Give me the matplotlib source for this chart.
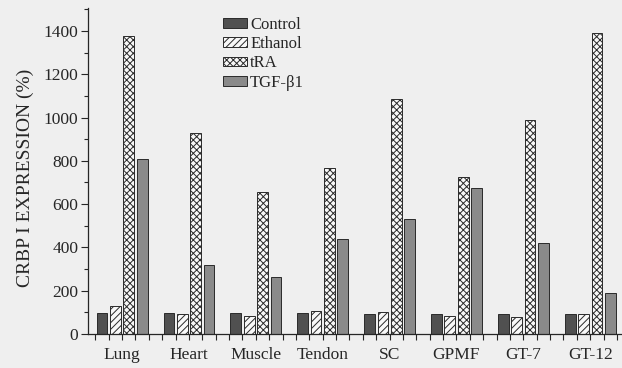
import numpy as np
from matplotlib import pyplot as plt

# tissues along the x axis
tissues = ["Lung", "Heart", "Muscle", "Tendon", "SC", "GPMF", "GT-7", "GT-12"]
seriesNames = ["Control", "Ethanol", "tRA", "TGF-\u03b21"]
# values (%)
control = [98, 98, 96, 96, 94, 94, 92, 92]
ethanol = [129, 91, 83, 108, 102, 83, 80, 92]
tra = [1377, 927, 656, 766, 1084, 724, 989, 1389]
tgf = [807, 319, 262, 437, 533, 676, 422, 189]

plt.rcParams["font.family"] = ["Liberation Serif", "DejaVu Serif"]
plt.rcParams["hatch.linewidth"] = 0.7

fig = plt.figure(figsize=(6.22, 3.68), dpi=100)
fig.patch.set_facecolor("#efefef")
ax = fig.add_axes([88/622, 1-334/368, (621-88)/622, (334-8)/368])
ax.set_facecolor("#efefef")

x = np.arange(len(tissues))
barWidth = 0.16
styles = [
    dict(color="#505050", hatch=None),
    dict(color="#f8f8f8", hatch="/////"),
    dict(color="#f8f8f8", hatch="xxxxx"),
    dict(color="#8a8a8a", hatch=None),
]
for j, (vals, name, st) in enumerate(zip([control, ethanol, tra, tgf], seriesNames, styles)):
    ax.bar(x + (j - 1.5)*0.2, vals, barWidth, color=st["color"], hatch=st["hatch"],
           edgecolor="#2a2a2a", linewidth=0.7, label=name)

txtColor = "#262626"
ax.set_xlim(-0.51, 7.46)
ax.set_ylim(0, 1506)
ax.set_yticks(np.arange(0, 1401, 200))
ax.set_yticks(np.arange(100, 1501, 200), minor=True)
ax.set_xticks(np.arange(-0.4, 7.45, 0.2))
ax.set_xticklabels([])
for i, t in enumerate(tissues):
    ax.text(i, -62, t, ha="center", va="top", fontsize=12.5, color=txtColor)
ax.tick_params(axis="x", direction="out", length=4, width=0.8, colors=txtColor)
ax.tick_params(axis="y", which="major", direction="out", length=5, width=0.8,
               colors=txtColor, labelsize=12.5, pad=2)
ax.tick_params(axis="y", which="minor", direction="out", length=3, width=0.8, colors=txtColor)
for s in ["top", "right"]:
    ax.spines[s].set_visible(False)
for s in ["left", "bottom"]:
    ax.spines[s].set_color(txtColor)
    ax.spines[s].set_linewidth(0.9)

ax.set_ylabel("CRBP I EXPRESSION (%)", fontsize=14, color=txtColor)
ax.yaxis.set_label_coords(-0.102, 0.48)

fig.legend(loc="upper left", bbox_to_anchor=(216/622, 1-10/368), frameon=False,
           fontsize=12, handlelength=1.45, handleheight=0.5, handletextpad=0.2,
           labelspacing=0.2, borderaxespad=0, labelcolor=txtColor)

fig.savefig("out.png", dpi=100, facecolor=fig.get_facecolor())
